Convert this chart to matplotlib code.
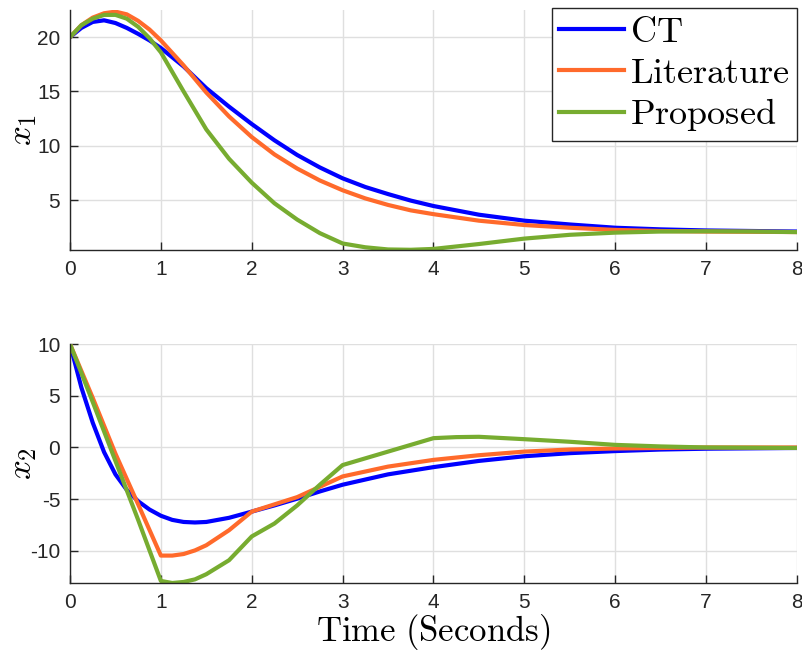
import matplotlib
matplotlib.use('Agg')
import matplotlib.pyplot as plt

# x1 readings (smooth curves)
t1 = [0, 0.125, 0.25, 0.375, 0.5, 0.625, 0.75, 0.875, 1, 1.25, 1.5, 1.75, 2, 2.25, 2.5,
      2.75, 3, 3.25, 3.5, 3.75, 4, 4.5, 5, 5.5, 6, 6.5, 7, 7.5, 8]
x1_ct = [20, 20.85, 21.4, 21.55, 21.3, 20.85, 20.3, 19.7, 19.0, 17.3, 15.3, 13.6, 12.0, 10.5,
         9.15, 8.0, 7.0, 6.2, 5.55, 4.95, 4.45, 3.65, 3.1, 2.75, 2.45, 2.3, 2.2, 2.15, 2.1]
x1_lit = [20, 21.1, 21.8, 22.2, 22.35, 22.1, 21.5, 20.7, 19.7, 17.4, 14.9, 12.7, 10.8, 9.2,
          7.9, 6.8, 5.9, 5.15, 4.55, 4.05, 3.7, 3.1, 2.7, 2.45, 2.25, 2.15, 2.1, 2.08, 2.05]
x1_prop = [20, 21.1, 21.7, 22.05, 22.05, 21.7, 20.95, 19.9, 18.6, 15.0, 11.5, 8.8, 6.6, 4.7,
           3.2, 1.95, 1.0, 0.65, 0.45, 0.42, 0.5, 0.95, 1.45, 1.8, 2.0, 2.1, 2.12, 2.1, 2.05]

# x2 readings (kinks at whole seconds)
t2_ct = [0, 0.125, 0.25, 0.375, 0.5, 0.625, 0.75, 0.875, 1, 1.125, 1.25, 1.375, 1.5, 1.75, 2,
         2.25, 2.5, 2.75, 3, 3.5, 4, 4.5, 5, 5.5, 6, 6.5, 7, 8]
x2_ct = [10, 5.8, 2.4, -0.45, -2.6, -4.1, -5.2, -6.0, -6.6, -7.0, -7.2, -7.25, -7.2, -6.8, -6.2,
         -5.6, -4.95, -4.25, -3.6, -2.6, -1.9, -1.3, -0.85, -0.55, -0.35, -0.2, -0.12, -0.05]
t2_lit = [0, 0.25, 0.5, 0.75, 1, 1.125, 1.25, 1.375, 1.5, 1.75, 2, 2.25, 2.5, 2.75, 3, 3.5, 4,
          4.5, 5, 5.5, 6, 6.5, 7, 8]
x2_lit = [10, 4.8, -0.6, -5.5, -10.45, -10.45, -10.3, -9.95, -9.45, -8.0, -6.2, -5.5, -4.8,
          -3.8, -2.8, -1.85, -1.2, -0.75, -0.4, -0.2, -0.1, -0.05, 0.0, 0.0]
t2_prop = [0, 0.25, 0.5, 0.75, 1, 1.125, 1.25, 1.375, 1.5, 1.75, 2, 2.25, 2.5, 2.75, 3, 3.5, 4,
           4.25, 4.5, 5, 5.5, 6, 6.5, 7, 8]
x2_prop = [10, 4.4, -1.3, -7.0, -12.9, -13.1, -13.0, -12.75, -12.25, -10.9, -8.6, -7.35, -5.6,
           -3.6, -1.7, -0.4, 0.9, 1.0, 1.03, 0.8, 0.55, 0.25, 0.1, 0.0, -0.05]

labels = [r'$\mathrm{CT}$', r'$\mathrm{Literature}$', r'$\mathrm{Proposed}$']
colors = ['#0000FF', '#FF6A2B', '#77AC30']

plt.rcParams['mathtext.fontset'] = 'cm'
plt.rcParams['font.family'] = ['Liberation Sans', 'DejaVu Sans']
plt.rcParams['axes.unicode_minus'] = False

fig = plt.figure(figsize=(8.03, 6.55), dpi=100)
ax1 = fig.add_axes([70/803, 1-250/655, 727/803, 240/655])
ax2 = fig.add_axes([70/803, 1-583/655, 727/803, 239/655])

def style(ax):
    for s in ['top', 'right']:
        ax.spines[s].set_visible(False)
    for s in ['left', 'bottom']:
        ax.spines[s].set_color('#262626')
        ax.spines[s].set_linewidth(1.0)
    ax.tick_params(direction='in', length=6, width=1, colors='#262626',
                   labelsize=15, pad=7)
    ax.grid(True, color='#DFDFDF', linewidth=1)
    ax.set_axisbelow(True)
    ax.set_xlim(0, 8)
    ax.set_xticks(range(0, 9))

lw = 3.0
ax1.plot(t1, x1_ct, color=colors[0], lw=lw, label=labels[0])
ax1.plot(t1, x1_lit, color=colors[1], lw=lw, label=labels[1])
ax1.plot(t1, x1_prop, color=colors[2], lw=lw, label=labels[2])
style(ax1)
ax1.set_ylim(0.4, 22.5)
ax1.set_yticks([5, 10, 15, 20])
ax1.set_ylabel(r'$x_1$', fontsize=25)
ax1.yaxis.set_label_coords(-0.042, 0.5)
leg = ax1.legend(loc='upper right', bbox_to_anchor=(1.0, 1.01), fontsize=26, frameon=True,
                 fancybox=False, edgecolor='#262626', framealpha=1, handlelength=1.8,
                 handletextpad=0.16, borderpad=0.2, labelspacing=0.16, borderaxespad=0)
leg.get_frame().set_linewidth(1.0)

ax2.plot(t2_ct, x2_ct, color=colors[0], lw=lw)
ax2.plot(t2_lit, x2_lit, color=colors[1], lw=lw)
ax2.plot(t2_prop, x2_prop, color=colors[2], lw=lw)
style(ax2)
ax2.set_ylim(-13.1, 10)
ax2.set_yticks([-10, -5, 0, 5, 10])
ax2.set_ylabel(r'$x_2$', fontsize=25)
ax2.yaxis.set_label_coords(-0.042, 0.5)
ax2.set_xlabel(r'$\mathrm{Time\ (Seconds)}$', fontsize=25, labelpad=0)

fig.savefig('out.png', dpi=100)
